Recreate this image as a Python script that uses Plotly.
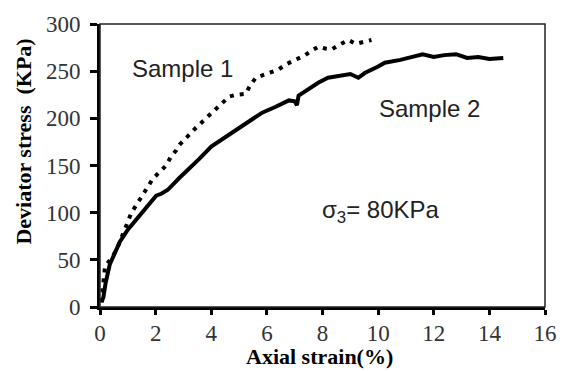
import plotly.graph_objects as go

# Sample 1 (dotted)
strain_s1 = [0.05, 0.10, 0.12, 0.18, 0.42, 0.60, 0.89, 1.13, 1.37, 1.55, 1.90, 2.14, 2.38, 2.56, 2.74,
             2.86, 3.21, 3.45, 3.81, 4.05, 4.30, 4.64, 4.90, 5.24, 5.40, 5.60, 6.07, 6.43, 6.67, 7.00,
             7.38, 7.62, 7.86, 8.10, 8.33, 8.60, 8.93, 9.20, 9.52, 9.76]
stress_s1 = [5, 20, 35, 43, 52, 61, 82, 100, 111, 119, 136, 143, 150, 160, 166,
             172, 183, 190, 200, 207, 214, 223, 225, 226, 235, 243, 248, 252, 257, 262,
             267, 272, 276, 274, 273, 278, 283, 279, 281, 283]

# Sample 2 (solid)
strain_s2 = [0.05, 0.12, 0.20, 0.28, 0.35, 0.50, 0.71, 1.00, 1.31, 1.60, 2.02, 2.20, 2.43, 2.86, 3.20,
             3.57, 4.00, 4.64, 5.20, 5.83, 6.30, 6.79, 7.00, 7.08, 7.14, 7.50, 7.86, 8.20, 8.57, 9.00,
             9.29, 9.52, 10.00, 10.24, 10.80, 11.43, 11.60, 12.00, 12.38, 12.80, 13.20, 13.60, 14.00, 14.50]
stress_s2 = [5, 10, 25, 38, 45, 55, 69, 82, 93, 104, 118, 120, 124, 137, 146,
             157, 170, 183, 194, 206, 212, 219, 218, 214, 224, 231, 238, 243, 245, 247,
             243, 248, 255, 259, 262, 266, 268, 265, 267, 268, 264, 265, 263, 264]

x_ticks = [0, 2, 4, 6, 8, 10, 12, 14, 16]
y_ticks = [0, 50, 100, 150, 200, 250, 300]

fig = go.Figure()
fig.add_trace(go.Scatter(x=strain_s2, y=stress_s2, mode="lines",
                         line=dict(color="black", width=4), showlegend=False))
fig.add_trace(go.Scatter(x=strain_s1, y=stress_s1, mode="lines",
                         line=dict(color="black", width=4, dash="4px,6px"), showlegend=False))

tickfont = dict(family="Liberation Serif", size=23, color="#333333")
fig.update_xaxes(range=[0, 16], tickvals=x_ticks, showline=True, linecolor="black", linewidth=3,
                 ticks="outside", ticklen=5, tickwidth=3, tickcolor="black", tickfont=tickfont,
                 showgrid=False, zeroline=False, ticklabelstandoff=-2)
fig.update_yaxes(range=[0, 300], tickvals=y_ticks, showline=True, linecolor="black", linewidth=3,
                 ticks="outside", ticklen=7, tickwidth=3, tickcolor="black", tickfont=tickfont,
                 showgrid=False, zeroline=False, ticklabelstandoff=5)

fig.add_shape(type="rect", xref="paper", yref="paper", x0=0, y0=0, x1=1, y1=1,
              line=dict(color="#222222", width=1.5))

lab = dict(family="Liberation Sans", size=24, color="#222222")
fig.add_annotation(x=2.96, y=253, text="Sample 1", showarrow=False, font=lab)
fig.add_annotation(x=11.86, y=210, text="Sample 2", showarrow=False, font=lab)
fig.add_annotation(x=10.1, y=101, text="σ<sub>3</sub>= 80KPa", showarrow=False, font=lab)

ttl = dict(family="Liberation Serif", size=22, color="black")
fig.add_annotation(xref="paper", yref="paper", x=-0.172, y=0.586, xanchor="center", yanchor="middle",
                   text="<b>Deviator stress  (KPa)</b>", textangle=-90, showarrow=False, font=ttl)
fig.add_annotation(xref="paper", yref="paper", x=0.493, y=-0.175, xanchor="center", yanchor="middle",
                   text="<b>Axial strain(%)</b>", showarrow=False, font=ttl)

fig.update_layout(width=569, height=371, margin=dict(l=100, r=21, t=17, b=64),
                  paper_bgcolor="white", plot_bgcolor="white")
fig.write_html("out.html")
